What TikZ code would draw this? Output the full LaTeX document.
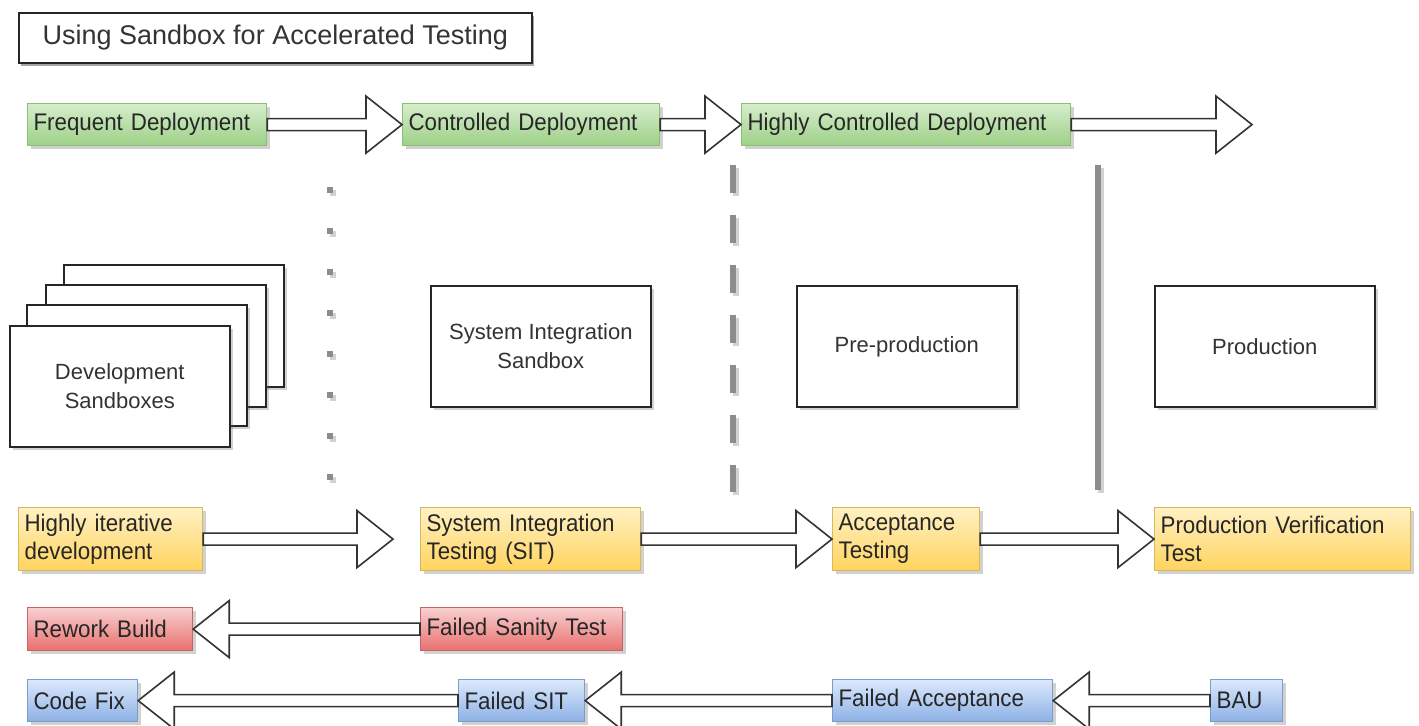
\documentclass[tikz,border=0pt]{standalone}
\usepackage{fontspec}
\setmainfont{Liberation Sans}
\newfontfamily\narrowf{Liberation Sans}[FakeStretch=0.93]
\usetikzlibrary{calc,shadows}
\protected\def\cboxfont{\narrowf\fontsize{12}{14}\selectfont\spaceskip=2.9pt plus 0.5pt minus 0.5pt\relax}
\definecolor{greenT}{HTML}{D6EDCC}
\definecolor{greenB}{HTML}{9ED087}
\definecolor{greenD}{HTML}{8CBF70}
\definecolor{yellowT}{HTML}{FFF1C4}
\definecolor{yellowB}{HTML}{FFD45E}
\definecolor{yellowD}{HTML}{D9B85A}
\definecolor{redT}{HTML}{F8D0D0}
\definecolor{redB}{HTML}{E8706E}
\definecolor{redD}{HTML}{C46666}
\definecolor{blueT}{HTML}{DCE9FB}
\definecolor{blueB}{HTML}{8DB1E6}
\definecolor{blueD}{HTML}{7B9DC9}
\definecolor{sepgray}{HTML}{8C8C8C}
\definecolor{sepshadow}{HTML}{D2D2D2}
\tikzset{
  shd/.style={drop shadow={shadow xshift=1.5pt, shadow yshift=-1.5pt, opacity=0.3, fill=black!60}},
  cbox/.style={draw, anchor=north west, inner xsep=3pt, inner ysep=0pt, align=left,
    font=\cboxfont, text=black!85, shd, line width=0.6pt},
  gbox/.style={cbox, top color=greenT, bottom color=greenB, draw=greenD, minimum height=21pt},
  ybox/.style={cbox, top color=yellowT, bottom color=yellowB, draw=yellowD, minimum height=31.5pt},
  rbox/.style={cbox, top color=redT, bottom color=redB, draw=redD, minimum height=21.5pt},
  bbox/.style={cbox, top color=blueT, bottom color=blueB, draw=blueD, minimum height=21pt},
  wbox/.style={draw=black!85, fill=white, line width=0.8pt, anchor=north west, minimum width=110pt,
    minimum height=60.5pt, align=center, font=\fontsize{11}{14.5}\selectfont, text=black!80, shd},
  stackbox/.style={draw=black!85, fill=white, line width=0.8pt, shd},
  titlebox/.style={draw=black!85, fill=white, line width=0.8pt, anchor=north west, minimum width=256.5pt,
    minimum height=25pt, font=\fontsize{13.5}{16}\selectfont, text=black!80,
    drop shadow={shadow xshift=1pt, shadow yshift=-1.5pt, opacity=0.5, fill=black!70}},
  harrow/.style={draw=black!80, fill=white, line width=0.8pt, line join=miter},
  sepline/.style={draw=sepgray, line width=3pt},
  sepshd/.style={draw=sepshadow, line width=3pt}
}
\newcommand\arrR[2]{\draw[harrow] let \p1=(#1), \p2=(#2) in
  ({\x1},{\y1+3pt}) -- ({\x2-18pt},{\y1+3pt}) -- ({\x2-18pt},{\y1+14.25pt}) -- ({\x2},{\y1})
  -- ({\x2-18pt},{\y1-14.25pt}) -- ({\x2-18pt},{\y1-3pt}) -- ({\x1},{\y1-3pt}) -- cycle;}
\newcommand\arrL[2]{\draw[harrow] let \p1=(#1), \p2=(#2) in
  ({\x1},{\y1+3pt}) -- ({\x2+18pt},{\y1+3pt}) -- ({\x2+18pt},{\y1+14.25pt}) -- ({\x2},{\y1})
  -- ({\x2+18pt},{\y1-14.25pt}) -- ({\x2+18pt},{\y1-3pt}) -- ({\x1},{\y1-3pt}) -- cycle;}
\begin{document}
\begin{tikzpicture}[x=0.5pt,y=-0.5pt]
\useasboundingbox (0,0) rectangle (1419,725);

% title
\node[titlebox] (title) at (18,12) {Using Sandbox for Accelerated Testing};

% separators
\draw[sepshd, dash pattern=on 3pt off 17.5pt] (333,190) -- (333,495);
\draw[sepline, dash pattern=on 3pt off 17.5pt] (330,187) -- (330,492);
\draw[sepshd, dash pattern=on 14pt off 11pt] (736,168) -- (736,495);
\draw[sepline, dash pattern=on 14pt off 11pt] (733,165) -- (733,492);
\draw[sepshd] (1101,168) -- (1101,493);
\draw[sepline] (1098,165) -- (1098,490);

% green row
\node[gbox, text width=113.5pt] (fd) at (27,103) {Frequent Deployment};
\node[gbox, text width=122.5pt] (cd) at (402,103) {Controlled Deployment};
\node[gbox, text width=158.5pt] (hcd) at (741,103) {Highly Controlled Deployment};
\coordinate (gend) at (1252,124);
\arrR{fd.east}{cd.west}
\arrR{cd.east}{hcd.west}
\arrR{hcd.east}{gend}

% development stack
\draw[stackbox] (64,265) rectangle (284,387);
\draw[stackbox] (46,285) rectangle (266,407);
\draw[stackbox] (27,305) rectangle (247,426);
\node[wbox] (dev) at (9,325) {Development\\Sandboxes};

% environment boxes
\node[wbox] (sis) at (430,285) {System Integration\\Sandbox};
\node[wbox] (pre) at (796,285) {Pre-production};
\node[wbox] (prod) at (1154,285) {Production};

% yellow row
\node[ybox, text width=86pt] (hid) at (18,507) {Highly iterative\\development};
\node[ybox, text width=104pt] (sit) at (420,507) {System Integration\\Testing (SIT)};
\node[ybox, text width=67.5pt] (at) at (832,507) {Acceptance\\Testing};
\node[ybox, text width=122pt] (pvt) at (1154,507) {Production Verification\\Test};
\coordinate (yend) at (393,538.5);
\arrR{hid.east}{yend}
\arrR{sit.east}{at.west}
\arrR{at.east}{pvt.west}

% red row
\node[rbox, text width=76.5pt] (rb) at (27,607) {Rework Build};
\node[rbox, text width=95pt] (fst) at (420,607) {Failed Sanity Test};
\arrL{fst.west}{rb.east}

% blue row
\node[bbox, text width=49pt] (cf) at (27,679) {Code Fix};
\node[bbox, text width=57pt] (fsit) at (458,679) {Failed SIT};
\node[bbox, text width=104pt] (fa) at (832,679) {Failed Acceptance};
\node[bbox, text width=30pt] (bau) at (1210,679) {BAU};
\arrL{fsit.west}{cf.east}
\arrL{fa.west}{fsit.east}
\arrL{bau.west}{fa.east}
\end{tikzpicture}
\end{document}
